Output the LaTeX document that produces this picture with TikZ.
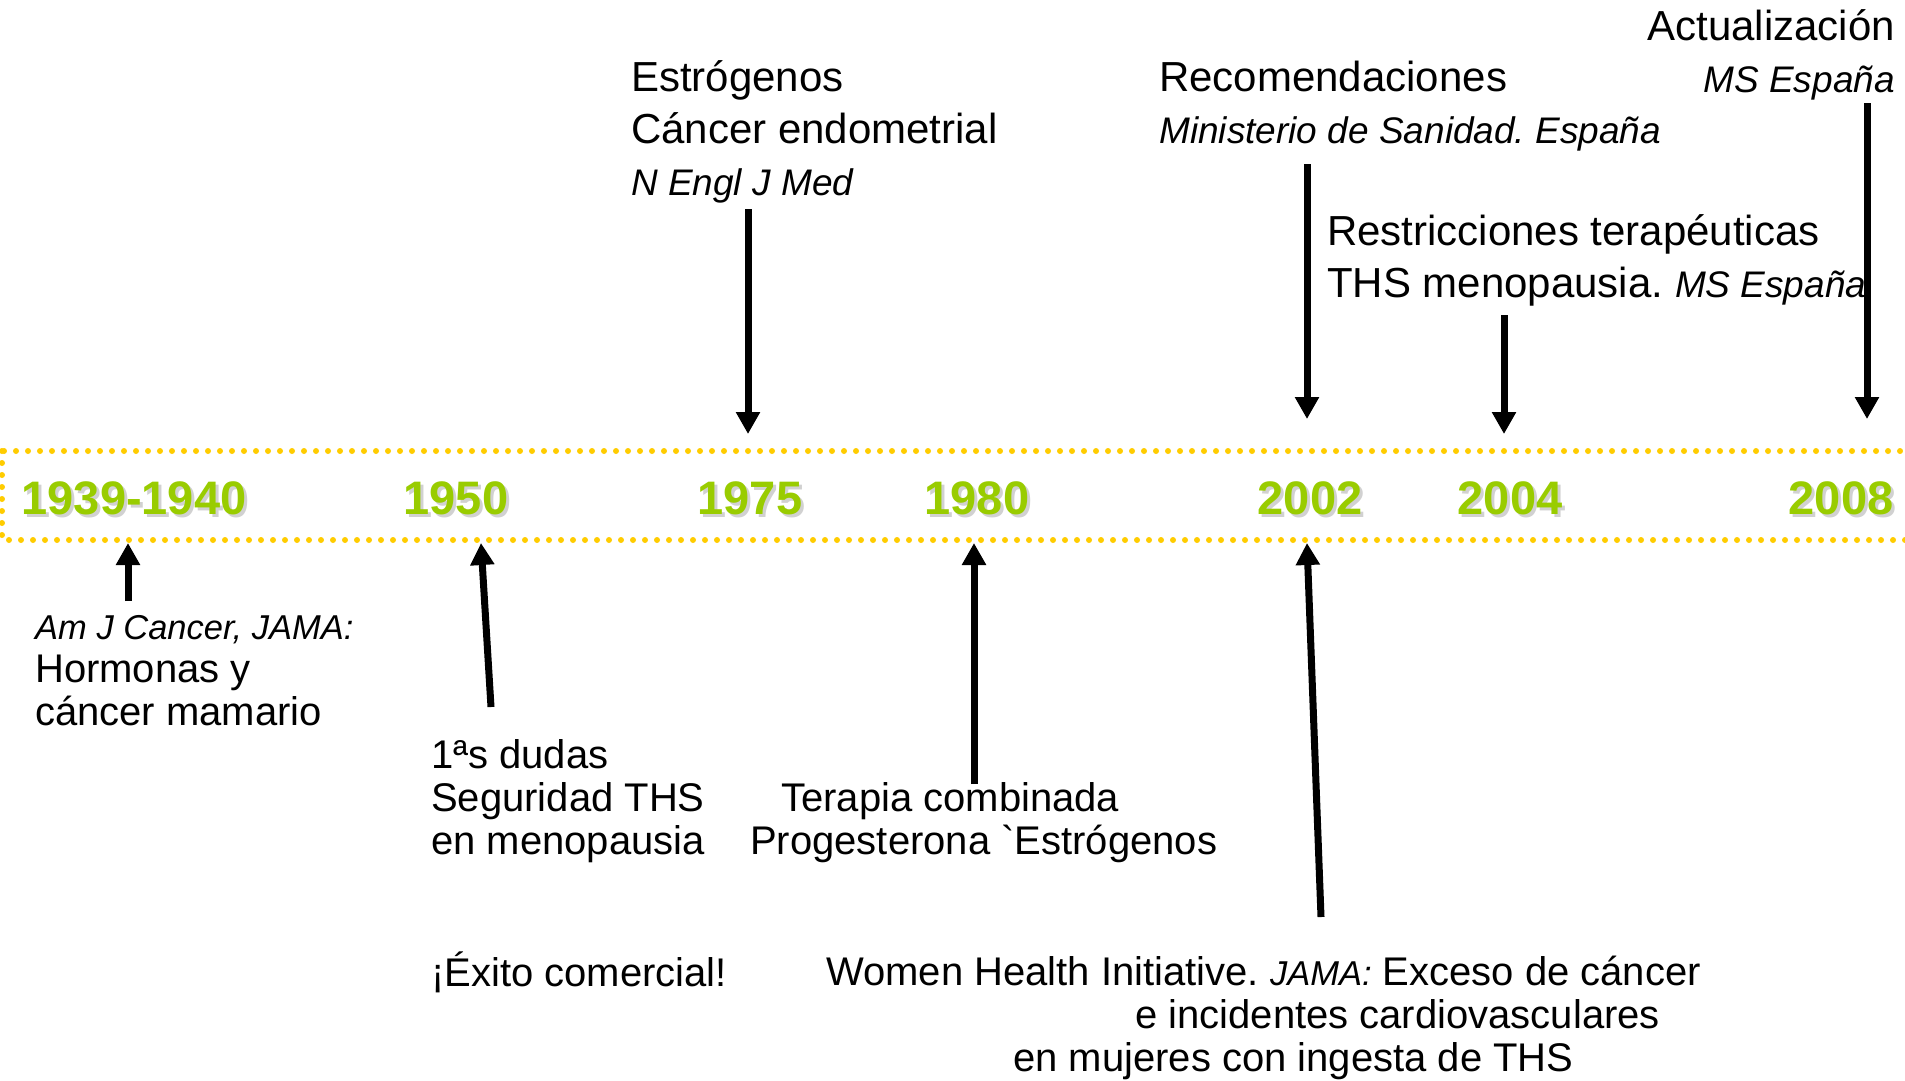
\documentclass[tikz,border=0pt]{standalone}
\usepackage{fontspec}
\setmainfont{Liberation Sans}[Ligatures=TeXOff]
\usetikzlibrary{arrows.meta}
\definecolor{verde}{HTML}{99CC00}
\definecolor{amarillo}{HTML}{FFCC00}
\newcommand{\fuente}[1]{{\fontsize{37}{52}\selectfont\itshape #1}}
\newcommand{\fuentepeq}[1]{{\fontsize{34.5}{43}\selectfont\itshape #1}}
\frenchspacing

\begin{document}
\begin{tikzpicture}[x=1pt,y=-1pt,
    flecha/.style={line width=7pt,-{Triangle[width=23pt,length=22pt]}},
    arriba/.style={anchor=north west,inner sep=0pt,align=left,font=\fontsize{42}{52}\selectfont,execute at begin node=\strut},
    abajo/.style={anchor=north west,inner sep=0pt,align=left,font=\fontsize{40}{43}\selectfont,execute at begin node=\strut},
    anio/.style={inner sep=0pt,font=\fontsize{47}{47}\selectfont\bfseries}]
\useasboundingbox (0,0) rectangle (1905,1080);
\draw[amarillo,line width=6pt,line cap=round,dash pattern=on 0pt off 12pt] (2,451) rectangle (1930,540);
\foreach \x/\t/\n in {134/1939-1940/a,456/1950/b,750/1975/c,977/1980/d,1310/2002/e,1510/2004/f,1841/2008/g}{
  \node[anio,black!40,opacity=.45] at (\x+3,501) {\t};
  \node[anio,verde] (\n) at (\x,498) {\t};
}

\node[arriba] (t1975) at (631,60.6) {Estrógenos\\Cáncer endometrial\\\fuente{N Engl J Med}};
\node[arriba] (t2002) at (1159,60.6) {Recomendaciones\\\fuente{Ministerio de Sanidad. España}};
\node[arriba,anchor=north east,align=right] (t2008) at (1895,9.6) {Actualización\\\fuente{MS España}};
\node[arriba] (t2004) at (1327,214.6) {Restricciones terapéuticas\\THS menopausia. \fuente{MS España}};

\node[abajo] (b1939) at (35,615) {\fuentepeq{Am J Cancer, JAMA:}\\Hormonas y\\cáncer mamario};
\node[abajo] (b1950) at (431,739) {1ªs dudas\\Seguridad THS\\en menopausia};
\node[abajo] (b1980) at (750,782) {\hspace*{31pt}Terapia combinada\\Progesterona `Estrógenos};
\node[abajo,anchor=base west] (exito) at (431,986) {¡Éxito comercial!};
\node[abajo] (b2002) at (826,955.9) {Women Health Initiative. \fuentepeq{JAMA:} Exceso de cáncer\\\hspace*{309pt}e incidentes cardiovasculares\\\hspace*{187pt}en mujeres con ingesta de THS};

\foreach \n/\xa/\ya/\xb/\yb in {c/748/209/748/434,e/1307/164/1307/419,f/1504/315/1504/434,g/1867/103/1867/419,
    a/128/601/128/543,b/491/707/481/543,d/974/784/974/543,h/1321/917/1307/543}{
  \coordinate (i\n) at (\xa,\ya);
  \coordinate (f\n) at (\xb,\yb);
  \draw[flecha] (i\n) -- (f\n);
}
\end{tikzpicture}
\end{document}
